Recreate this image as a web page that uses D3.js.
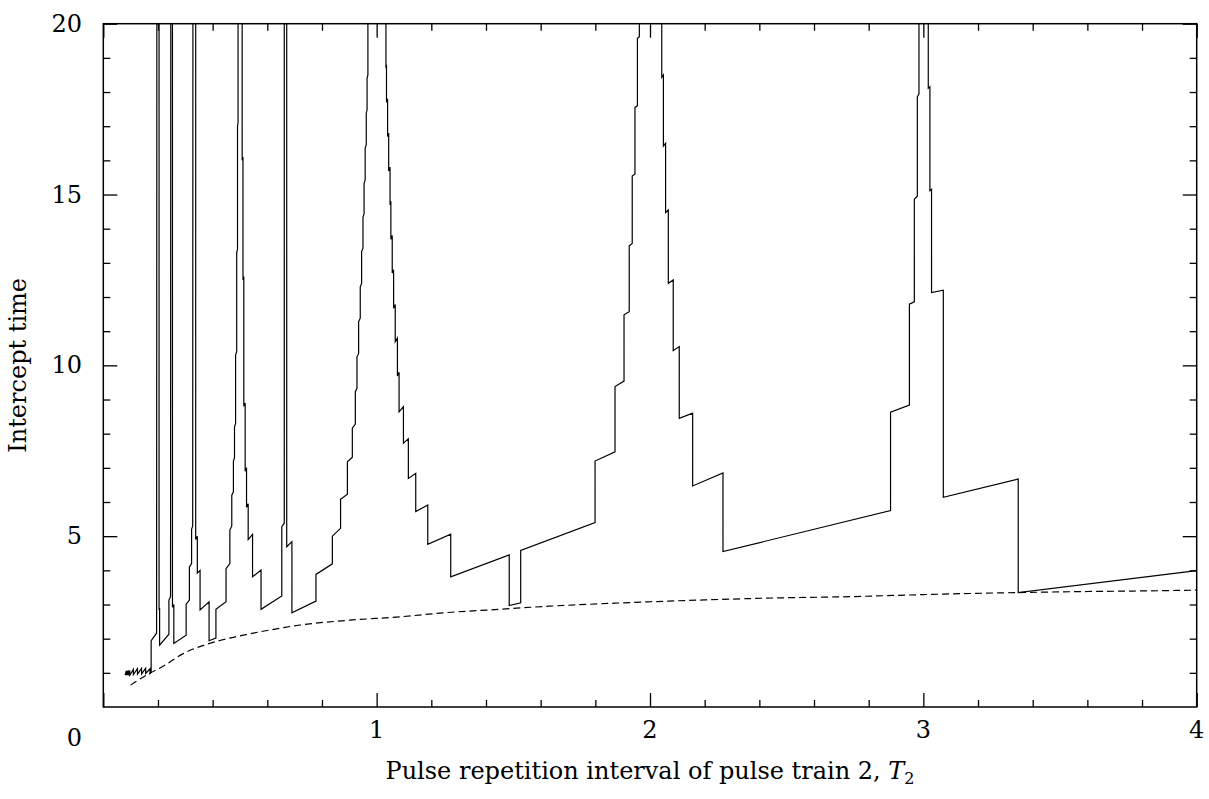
<!DOCTYPE html>
<html>
<head>
<meta charset="utf-8">
<script src="https://cdn.jsdelivr.net/npm/d3@7"></script>
<style>
  body { margin: 0; background: #fff; }
  svg text { font-family: 'DejaVu Serif', serif; fill: #000; }
</style>
</head>
<body>
<svg id="chart" width="1209" height="799"></svg>
<script>
// Intercept time vs T2 (solid). Values above 20 are off the chart and get clipped.
const interceptPts = [
  [0.080, 0.93], [0.084, 1.06], [0.084, 0.93], [0.088, 1.06], [0.088, 0.93], [0.092, 1.07], [0.092, 0.93],
  [0.097, 1.07], [0.097, 0.93], [0.110, 1.10], [0.110, 0.95], [0.125, 1.12], [0.125, 0.96], [0.140, 1.13],
  [0.140, 0.97], [0.155, 1.13], [0.155, 0.98], [0.171, 1.12], [0.171, 0.98], [0.175, 1.02], [0.175, 1.94],
  [0.195, 2.16], [0.196, 22],
  [0.204, 22], [0.204, 2.84], [0.206, 2.90], [0.206, 1.81], [0.240, 2.13], [0.240, 3.13], [0.246, 3.23], [0.247, 22],
  [0.253, 22], [0.253, 2.92], [0.258, 3.00], [0.258, 1.86], [0.303, 2.10], [0.303, 3.01], [0.315, 3.13],
  [0.315, 4.10], [0.323, 4.20], [0.323, 5.20], [0.327, 5.30], [0.328, 22],
  [0.338, 22], [0.338, 4.90], [0.344, 5.00], [0.344, 3.92], [0.354, 4.00], [0.354, 2.84], [0.387, 3.08],
  [0.387, 1.94], [0.412, 2.02], [0.412, 2.86], [0.449, 3.08], [0.449, 4.05], [0.463, 4.20], [0.463, 5.18],
  [0.470, 5.30], [0.470, 6.20], [0.476, 6.30], [0.476, 7.20], [0.480, 7.30], [0.480, 8.20], [0.484, 8.30],
  [0.484, 10.3], [0.488, 10.4], [0.488, 13.3], [0.491, 13.4], [0.491, 17.0], [0.493, 17.1], [0.493, 22],
  [0.508, 22], [0.508, 16.0], [0.511, 16.1], [0.511, 12.5], [0.514, 12.6], [0.514, 8.80], [0.519, 8.90],
  [0.519, 6.90], [0.524, 7.00], [0.524, 5.85], [0.530, 5.95], [0.530, 4.90], [0.546, 5.05], [0.546, 3.81],
  [0.577, 4.01], [0.577, 2.86], [0.653, 3.25], [0.653, 5.28], [0.662, 5.38], [0.662, 22],
  [0.671, 22], [0.671, 4.69], [0.690, 4.84], [0.690, 2.76], [0.778, 3.10], [0.778, 3.88], [0.838, 4.19],
  [0.838, 5.00], [0.868, 5.23], [0.868, 6.08], [0.893, 6.23], [0.893, 7.18], [0.911, 7.31], [0.911, 8.16],
  [0.922, 8.28], [0.922, 9.23], [0.928, 9.33], [0.928, 10.25], [0.934, 10.35], [0.934, 11.28], [0.940, 11.38],
  [0.940, 12.30], [0.945, 12.40], [0.945, 13.33], [0.950, 13.43], [0.950, 14.34], [0.954, 14.44], [0.954, 15.33],
  [0.958, 15.43], [0.958, 16.36], [0.962, 16.46], [0.962, 17.38], [0.965, 17.48], [0.965, 18.40], [0.968, 18.50],
  [0.968, 22],
  [1.034, 22], [1.034, 18.70], [1.036, 18.80], [1.036, 17.70], [1.040, 17.80], [1.040, 16.70], [1.044, 16.80],
  [1.044, 15.69], [1.049, 15.80], [1.049, 14.70], [1.052, 14.80], [1.052, 13.69], [1.057, 13.80], [1.057, 12.70],
  [1.062, 12.80], [1.062, 11.67], [1.068, 11.78], [1.068, 10.69], [1.076, 10.80], [1.076, 9.69], [1.082, 9.80],
  [1.082, 8.64], [1.098, 8.79], [1.098, 7.72], [1.116, 7.85], [1.116, 6.69], [1.143, 6.84], [1.143, 5.72],
  [1.187, 5.91], [1.187, 4.76], [1.271, 5.06], [1.271, 3.81], [1.485, 4.45], [1.485, 2.97], [1.527, 3.05],
  [1.527, 4.58], [1.799, 5.40], [1.799, 7.20], [1.872, 7.47], [1.872, 9.38], [1.905, 9.54], [1.905, 11.48],
  [1.924, 11.57], [1.924, 13.50], [1.935, 13.57], [1.935, 15.54], [1.945, 15.60], [1.945, 17.55], [1.954, 17.60],
  [1.954, 19.57], [1.961, 19.62], [1.961, 22],
  [2.043, 22], [2.043, 18.43], [2.049, 18.50], [2.049, 16.42], [2.057, 16.50], [2.057, 14.47], [2.067, 14.55],
  [2.067, 12.40], [2.085, 12.50], [2.085, 10.43], [2.107, 10.55], [2.107, 8.45], [2.156, 8.60], [2.156, 6.47],
  [2.267, 6.85], [2.267, 4.55], [2.880, 5.75], [2.880, 8.63], [2.949, 8.84], [2.949, 11.79], [2.967, 11.86],
  [2.967, 14.86], [2.978, 14.95], [2.978, 17.86], [2.984, 17.95], [2.984, 22],
  [3.018, 22], [3.018, 18.11], [3.024, 18.15], [3.024, 15.11], [3.030, 15.15], [3.030, 12.13], [3.073, 12.20],
  [3.073, 6.14], [3.347, 6.67], [3.347, 3.35], [4.000, 3.99]
]

// Lower bound (dashed)
const boundPts = [
  [0.10, 0.64], [0.13, 0.80], [0.171, 0.99], [0.22, 1.20], [0.294, 1.57], [0.38, 1.84], [0.476, 2.04],
  [0.60, 2.24], [0.72, 2.40], [0.90, 2.54], [1.085, 2.64], [1.25, 2.76], [1.451, 2.86], [1.63, 2.95],
  [1.816, 3.02], [2.00, 3.08], [2.183, 3.13], [2.45, 3.19], [2.73, 3.23], [3.00, 3.29], [3.347, 3.35],
  [3.60, 3.38], [3.829, 3.40], [4.00, 3.42]
]

const xMajorTicks = [0, 1, 2, 3, 4]
const xMinorTicks = [0.2, 0.4, 0.6, 0.8, 1.2, 1.4, 1.6, 1.8, 2.2, 2.4, 2.6, 2.8, 3.2, 3.4, 3.6, 3.8]
const xTickLabels = ['1', '2', '3', '4']
const yMajorTicks = [5, 10, 15, 20]
const yMinorTicks = [1, 2, 3, 4, 6, 7, 8, 9, 11, 12, 13, 14, 16, 17, 18, 19]
const yTickLabels = ['5', '10', '15', '20']

const svg = d3.select('#chart')
const padL = 103.3
const padR = 1196.7
const padT = 23.7
const padB = 707

const x = d3.scaleLinear().domain([0, 4]).range([padL, padR])
const y = d3.scaleLinear().domain([0, 20]).range([padB, padT])

svg.append('clipPath').attr('id', 'plot-clip')
  .append('rect')
  .attr('x', padL).attr('y', padT)
  .attr('width', padR - padL).attr('height', padB - padT)

// Tick helper: inward ticks on all four sides
function ticks (axisFn, scale, values, size, pos) {
  const g = svg.append('g')
    .attr('transform', pos)
    .call(axisFn(scale).tickValues(values).tickSize(-size).tickSizeOuter(0).tickFormat(''))
  g.select('.domain').remove()
  g.selectAll('.tick line').attr('stroke', '#000').attr('stroke-width', 1.3)
  return g
}

ticks(d3.axisBottom, x, xMajorTicks, 14, `translate(0,${padB})`)
ticks(d3.axisBottom, x, xMinorTicks, 7, `translate(0,${padB})`)
ticks(d3.axisTop, x, xMajorTicks, 14, `translate(0,${padT})`)
ticks(d3.axisTop, x, xMinorTicks, 7, `translate(0,${padT})`)
ticks(d3.axisLeft, y, yMajorTicks, 14, `translate(${padL},0)`)
ticks(d3.axisLeft, y, yMinorTicks, 7, `translate(${padL},0)`)
ticks(d3.axisRight, y, yMajorTicks, 14, `translate(${padR},0)`)
ticks(d3.axisRight, y, yMinorTicks, 7, `translate(${padR},0)`)

// Frame
svg.append('rect')
  .attr('x', padL).attr('y', padT)
  .attr('width', padR - padL).attr('height', padB - padT)
  .attr('fill', 'none').attr('stroke', '#000').attr('stroke-width', 1.5)

const plot = svg.append('g').attr('clip-path', 'url(#plot-clip)')

plot.append('path')
  .datum(boundPts)
  .attr('fill', 'none')
  .attr('stroke', '#000')
  .attr('stroke-width', 1.2)
  .attr('stroke-dasharray', '7,4')
  .attr('d', d3.line().x(d => x(d[0])).y(d => y(d[1])).curve(d3.curveMonotoneX))

plot.append('path')
  .datum(interceptPts)
  .attr('fill', 'none')
  .attr('stroke', '#000')
  .attr('stroke-width', 1.2)
  .attr('stroke-linejoin', 'miter')
  .attr('d', d3.line().x(d => x(d[0])).y(d => y(d[1])))

// Tick labels
const fs = 24
svg.append('g').selectAll('text')
  .data(xTickLabels)
  .join('text')
  .attr('x', d => x(+d))
  .attr('y', 738)
  .attr('text-anchor', 'middle')
  .style('font-size', fs + 'px')
  .text(d => d)

svg.append('g').selectAll('text')
  .data(yTickLabels)
  .join('text')
  .attr('x', 82)
  .attr('y', d => y(+d) + 8)
  .attr('text-anchor', 'end')
  .style('font-size', fs + 'px')
  .text(d => d)

svg.append('text')
  .attr('x', 82).attr('y', 746)
  .attr('text-anchor', 'end')
  .style('font-size', fs + 'px')
  .text('0')

// Axis titles
const xTitle = svg.append('text')
  .attr('x', (padL + padR) / 2)
  .attr('y', 779)
  .attr('text-anchor', 'middle')
  .style('font-size', '24px')
xTitle.append('tspan').text('Pulse repetition interval of pulse train 2, ')
xTitle.append('tspan').style('font-style', 'italic').text('T')
xTitle.append('tspan').attr('dy', 5).style('font-size', '16px').text('2')

svg.append('text')
  .attr('transform', `translate(26,${(padT + padB) / 2}) rotate(-90)`)
  .attr('text-anchor', 'middle')
  .style('font-size', '24px')
  .text('Intercept time')
</script>
</body>
</html>
